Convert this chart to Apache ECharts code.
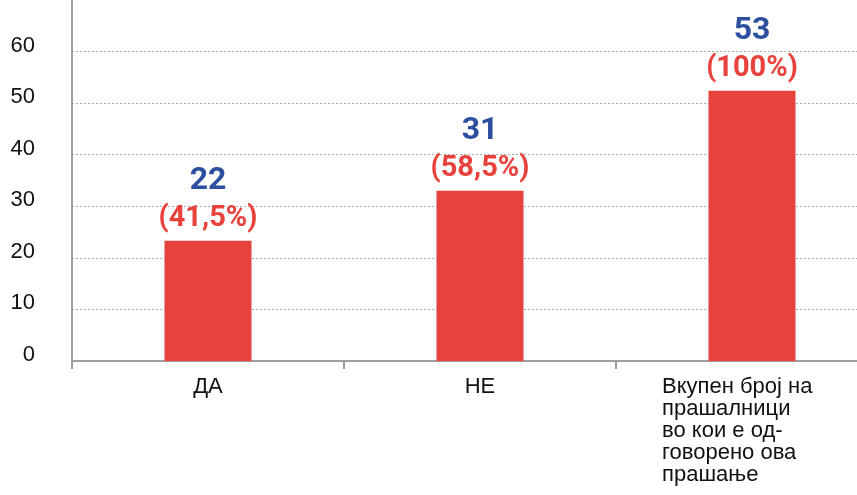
<!DOCTYPE html>
<html>
<head>
<meta charset="utf-8">
<script src="https://cdn.jsdelivr.net/npm/echarts@6/dist/echarts.min.js"></script>
<style>
  html, body { margin: 0; padding: 0; background: #fff; }
  #chart { width: 857px; height: 495px; }
</style>
</head>
<body>
<div id="chart"></div>
<script>
// categories and values
const categories = ['ДА', 'НЕ', 'Вкупен број на\nпрашалници\nво кои е од-\nговорено ова\nпрашање']
const barValues = [23.3, 33, 52.4] // bar heights as drawn
const countLabels = ['22', '31', '53']
const percentLabels = ['(41,5%)', '(58,5%)', '(100%)']
const yMin = 0
const yMax = 70
const yStep = 10

const axisGray = '#9e9e9e'
const barRed = '#e8423c'
const numBlue = '#2c4f9f'
const txtFont = '"Liberation Sans", Arial, sans-serif'

const chart = echarts.init(document.getElementById('chart'))

const opt = {
  animation: false,
  grid: { left: 72, top: 0, bottom: 134, width: 816, outerBoundsMode: 'none' },
  xAxis: {
    type: 'category',
    data: categories,
    axisLine: { lineStyle: { color: axisGray, width: 2 } },
    axisTick: { show: true, length: 8, lineStyle: { color: axisGray, width: 2 } },
    axisLabel: {
      interval: 0,
      margin: 15,
      color: '#111',
      fontFamily: txtFont,
      fontSize: 22,
      lineHeight: 22,
      formatter: function (v) {
        if (v.indexOf('\n') < 0) return v
        return v.split('\n').map(function (l) { return '{l|' + l + '}' }).join('\n')
      },
      rich: {
        l: { width: 180, align: 'left', fontSize: 22, lineHeight: 22, color: '#111', fontFamily: txtFont }
      }
    }
  },
  yAxis: {
    type: 'value',
    min: yMin,
    max: yMax,
    interval: yStep,
    axisLine: { show: true, lineStyle: { color: axisGray, width: 2 } },
    axisTick: { show: false },
    axisLabel: {
      showMaxLabel: false,
      margin: 37,
      color: '#111',
      fontFamily: txtFont,
      fontSize: 22,
      verticalAlign: 'bottom',
      lineHeight: 12
    },
    splitLine: {
      show: true,
      showMinLine: false,
      showMaxLine: false,
      lineStyle: { color: '#aaa', type: [2, 2], width: 1 }
    }
  },
  series: [
    {
      type: 'bar',
      data: barValues,
      barWidth: 87,
      itemStyle: { color: barRed },
      label: {
        show: true,
        position: 'top',
        distance: 4,
        formatter: function (p) {
          return '{n|' + countLabels[p.dataIndex] + '}\n{p|' + percentLabels[p.dataIndex] + '}'
        },
        rich: {
          n: { fontFamily: 'Roboto, sans-serif', fontWeight: 'bold', fontSize: 32, lineHeight: 40, color: numBlue },
          p: { fontFamily: 'Roboto, sans-serif', fontWeight: 'bold', fontSize: 29, lineHeight: 36, color: barRed }
        }
      }
    }
  ]
}

chart.setOption(opt)
</script>
</body>
</html>
